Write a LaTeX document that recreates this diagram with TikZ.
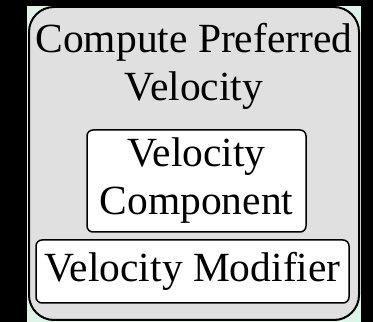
\documentclass[tikz,border=0pt]{standalone}
\usepackage{fontspec}
\setmainfont{Liberation Serif}
\definecolor{MintBack}{HTML}{DDF4E8}
\definecolor{PanelGrey}{HTML}{E0E0E0}

\begin{document}
\begin{tikzpicture}[x=1pt,y=1pt,
    panel/.style={draw=black, line width=2pt, fill=PanelGrey,
                  rounded corners=25pt},
    part/.style={draw=black, line width=1.5pt, fill=white,
                 rounded corners=6pt, inner sep=0pt, align=center,
                 font=\fontsize{41.5}{48}\selectfont}]
  \fill[black] (0,0) rectangle (373,322);
  \useasboundingbox (0,0) rectangle (373,322);
  \fill[MintBack] (27,0) rectangle (361,316);
  % outer box
  \node[panel, minimum width=330pt, minimum height=313pt,
        inner sep=0pt] (prefvel) at (194,158.5) {};
  \node[anchor=north, inner sep=0pt, align=center,
        font=\fontsize{41.5}{48}\selectfont] (title)
        at ([yshift=-17pt]prefvel.north) {Compute Preferred\\Velocity};
  % parts
  \node[part, minimum width=219pt, minimum height=102pt] (velcomp)
        at (196.5,141) {Velocity\\Component};
  \node[part, minimum width=313pt, minimum height=63pt] (velmod)
        at (192.5,50.5) {Velocity Modifier};
\end{tikzpicture}
\end{document}
